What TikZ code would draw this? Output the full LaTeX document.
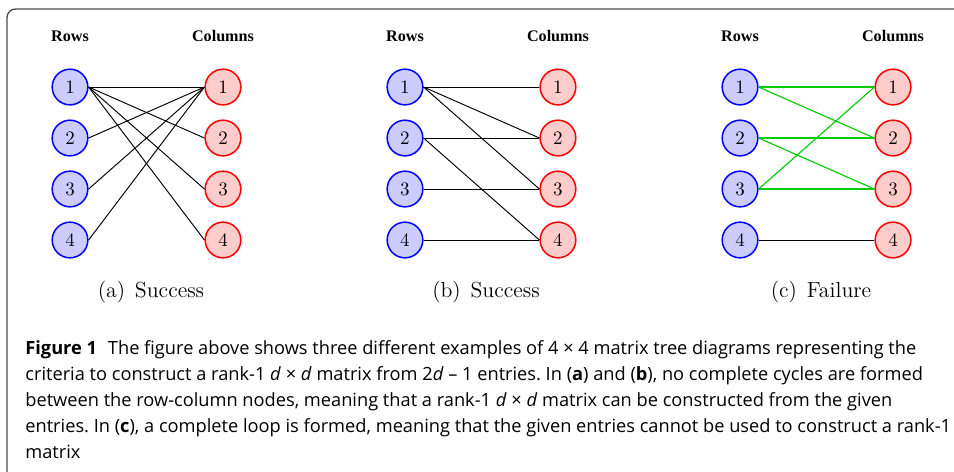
\documentclass[tikz,border=0pt]{standalone}
\usepackage{fontspec}
\newfontfamily\capfont{Open Sans}
\newfontfamily\hdfont{Liberation Serif}

\begin{document}
\frenchspacing
\begin{tikzpicture}[x=1cm,y=1cm,
  rv/.style={circle,draw=blue,fill=blue!20,line width=0.8pt,minimum size=6.6mm,inner sep=0pt,font=\fontsize{10}{12}\selectfont},
  cv/.style={rv,draw=red,fill=red!20},
  e/.style={draw=black,line width=0.5pt},
  g/.style={e,draw=green!80!black,line width=0.6pt},
  hd/.style={font=\hdfont\bfseries\fontsize{8.5}{10}\selectfont,inner sep=1pt},
  sub/.style={font=\fontsize{11.5}{13}\selectfont,inner sep=1pt},
  capbox/.style={font=\capfont\fontsize{9.6}{13.7}\selectfont,align=left,inner sep=0pt}]
  \useasboundingbox (0,0) rectangle (17.66,-8.737);
  % outer frame, cut off at the right and bottom
  \draw[black!70,line width=0.7pt,rounded corners=4.5pt] (0.130,-8.737) -- (0.130,-0.167) -- (17.66,-0.167);
  % panels a, b, c: rows on the left, columns on the right
  \foreach \p/\dx in {a/0,b/6.201,c/12.403} {
    \foreach \k in {1,...,4} {
      \node[rv] (r\p\k) at ({1.296+\dx},{-1.611-0.944*(\k-1)}) {\k};
      \node[cv] (c\p\k) at ({4.128+\dx},{-1.611-0.944*(\k-1)}) {\k};
    }
    \node[hd] (rows\p) at ({1.296+\dx},-0.666) {Rows};
    \node[hd] (cols\p) at ({4.128+\dx},-0.666) {Columns};
  }
  % entries
  \foreach \i/\j in {1/1,1/2,1/3,1/4,2/1,3/1,4/1} \draw[e] (ra\i.east) -- (ca\j.west);
  \foreach \i/\j in {1/1,1/2,1/3,2/2,2/4,3/3,4/4} \draw[e] (rb\i.east) -- (cb\j.west);
  % the closed cycle is green
  \foreach \i/\j in {1/1,1/2,2/2,2/3,3/1,3/3} \draw[g] (rc\i.east) -- (cc\j.west);
  \draw[e] (rc4.east) -- (cc4.west);
  % subcaptions
  \node[sub] (suba) at (2.795,-5.405) {(a)\hskip0.45em Success};
  \node[sub] (subb) at (8.997,-5.405) {(b)\hskip0.45em Success};
  \node[sub] (subc) at (15.198,-5.405) {(c)\hskip0.45em Failure};
  % figure caption
  \node[capbox,anchor=north west] (fig) at (0.463,-6.29) {%
    \textbf{Figure 1}\hskip0.6em The figure above shows three different examples of 4 × 4 matrix tree diagrams representing the\\
    criteria to construct a rank-1 \textit{d} × \textit{d} matrix from 2\textit{d} – 1 entries. In (\textbf{a}) and (\textbf{b}), no complete cycles are formed\\
    between the row-column nodes, meaning that a rank-1 \textit{d} × \textit{d} matrix can be constructed from the given\\
    entries. In (\textbf{c}), a complete loop is formed, meaning that the given entries cannot be used to construct a rank-1\\
    matrix};
\end{tikzpicture}
\end{document}
